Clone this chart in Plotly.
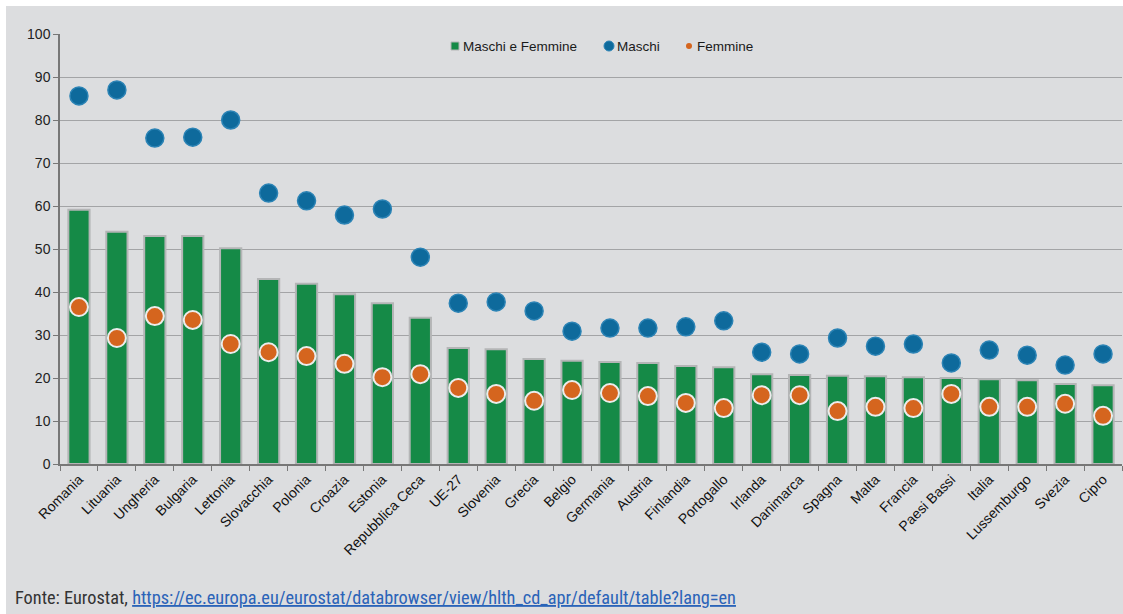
import plotly.graph_objects as go

paesi = ["Romania", "Lituania", "Ungheria", "Bulgaria", "Lettonia", "Slovacchia", "Polonia",
         "Croazia", "Estonia", "Repubblica Ceca", "UE-27", "Slovenia", "Grecia", "Belgio",
         "Germania", "Austria", "Finlandia", "Portogallo", "Irlanda", "Danimarca", "Spagna",
         "Malta", "Francia", "Paesi Bassi", "Italia", "Lussemburgo", "Svezia", "Cipro"]
totale = [59.1, 54.0, 53.0, 53.0, 50.2, 43.0, 41.9, 39.5, 37.4, 34.0, 27.0, 26.7, 24.4, 24.0,
          23.7, 23.5, 22.8, 22.5, 20.9, 20.7, 20.5, 20.4, 20.2, 20.0, 19.7, 19.5, 18.6, 18.3]
maschi = [85.6, 87.0, 75.8, 76.0, 80.0, 63.0, 61.2, 57.9, 59.3, 48.1, 37.4, 37.7, 35.6, 30.9,
          31.6, 31.6, 31.9, 33.3, 26.0, 25.6, 29.3, 27.4, 27.9, 23.5, 26.5, 25.3, 23.0, 25.6]
femmine = [36.5, 29.3, 34.4, 33.5, 27.9, 26.0, 25.1, 23.3, 20.2, 20.9, 17.7, 16.3, 14.7, 17.2,
           16.5, 15.8, 14.2, 13.0, 16.0, 16.0, 12.3, 13.3, 13.0, 16.3, 13.3, 13.3, 14.0, 11.2]
y_ticks = [0, 10, 20, 30, 40, 50, 60, 70, 80, 90, 100]
legend_labels = ["Maschi e Femmine", "Maschi", "Femmine"]

GREEN = "#158a47"
BLUE = "#0e6a9c"
ORANGE = "#d5651e"
BG = "#dcdddf"
FONT = "Liberation Sans, Arial, sans-serif"

# plot area in page pixels: x 60..1122, y 34..464 (body margin removed)
W, H = 1123, 614
PL, PR, PT, PB = 60, 1122, 34, 464


def px2x(p):
    return (p - PL) / (PR - PL)


def px2y(p):
    return (PB - p) / (PB - PT)


fig = go.Figure()
fig.add_trace(go.Bar(x=paesi, y=totale, marker=dict(color=GREEN, line=dict(color="#b4b5b6", width=2)),
                     width=0.56, showlegend=False, name=legend_labels[0]))
fig.add_trace(go.Scatter(x=paesi, y=maschi, mode="markers", name=legend_labels[1],
                         marker=dict(color=BLUE, size=18, line=dict(color="#2b83b5", width=1.5)),
                         showlegend=False))
fig.add_trace(go.Scatter(x=paesi, y=femmine, mode="markers", name=legend_labels[2],
                         marker=dict(color=ORANGE, size=18, line=dict(color="#ececec", width=2)),
                         showlegend=False))

ly = 46
shapes = [
    # white frame at top and left of the page
    dict(type="rect", xref="paper", yref="paper", x0=px2x(0), x1=px2x(W + 5), y0=px2y(6), y1=px2y(-5),
         fillcolor="white", line=dict(width=0), layer="below"),
    dict(type="rect", xref="paper", yref="paper", x0=px2x(-5), x1=px2x(6), y0=px2y(H + 5), y1=px2y(0),
         fillcolor="white", line=dict(width=0), layer="below"),
    # legend symbols
    dict(type="rect", xref="paper", yref="paper", x0=px2x(451), x1=px2x(459), y0=px2y(50), y1=px2y(42),
         fillcolor=GREEN, line=dict(color="#b4b5b6", width=1)),
    dict(type="circle", xref="paper", yref="paper", x0=px2x(604), x1=px2x(614), y0=px2y(51), y1=px2y(41),
         fillcolor=BLUE, line=dict(color="#2b83b5", width=1)),
    dict(type="circle", xref="paper", yref="paper", x0=px2x(686), x1=px2x(692), y0=px2y(49), y1=px2y(43),
         fillcolor=ORANGE, line=dict(width=0)),
]
annotations = []
for lbl, xp in zip(legend_labels, [461, 615, 695]):
    annotations.append(dict(xref="paper", yref="paper", x=px2x(xp), y=px2y(ly), xanchor="left",
                            yanchor="middle", showarrow=False, text=lbl,
                            font=dict(family=FONT, size=13.5, color="#1a1a1a")))
annotations.append(dict(
    xref="paper", yref="paper", x=px2x(13), y=px2y(597), xanchor="left", yanchor="middle",
    showarrow=False,
    text="Fonte: Eurostat, <span style='color:#2a63b8;text-decoration:underline'>"
         "https://ec.europa.eu/eurostat/databrowser/view/hlth_cd_apr/default/table?lang=en</span>",
    font=dict(family="Liberation Sans Narrow, Arial Narrow, Roboto Condensed, sans-serif",
              size=18.3, color="#333333")))

fig.update_layout(
    width=W, height=H,
    margin=dict(l=PL, r=W - PR, t=PT, b=H - PB),
    paper_bgcolor=BG, plot_bgcolor=BG,
    font=dict(family=FONT, size=13, color="#222222"),
    showlegend=False,
    xaxis=dict(type="category", tickangle=-45, tickson="boundaries", ticks="outside",
               ticklen=5, tickcolor="#777777", showline=True, linecolor="#777777", linewidth=1.5,
               showgrid=False, tickfont=dict(size=14, color="#111111"), automargin=False,
               range=[-0.5, len(paesi) - 0.5]),
    yaxis=dict(range=[0, 100], tickvals=y_ticks, ticks="outside", ticklen=5, tickcolor="#777777",
               showline=True, linecolor="#777777", linewidth=1.5, showgrid=True,
               gridcolor="#a3a4a6", gridwidth=1, zeroline=False,
               tickfont=dict(size=14, color="#222222"), automargin=False),
    shapes=shapes,
    annotations=annotations,
)

fig.write_html("out.html", config={"displayModeBar": False},
               post_script="document.body.style.margin='0px';document.body.style.overflow='hidden';"
                           "document.documentElement.style.overflow='hidden';"
                           "document.body.style.background='" + BG + "';")
